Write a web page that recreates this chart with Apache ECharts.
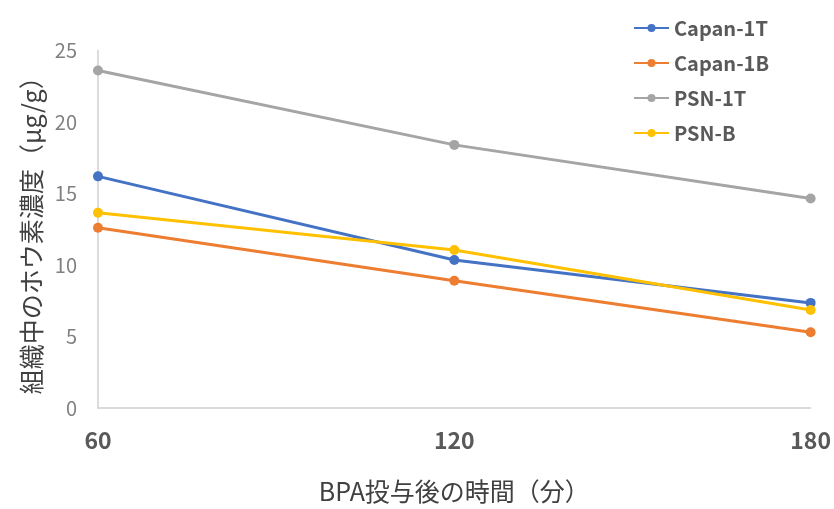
<!DOCTYPE html>
<html><head><meta charset="utf-8">
<script src="https://cdn.jsdelivr.net/npm/echarts@6/dist/echarts.min.js"></script>
<style>html,body{margin:0;padding:0;background:#fff}#c{width:834px;height:509px}</style>
</head><body><div id="c"></div>
<script>
const categories = ['60', '120', '180'];
const capan1T = [16.2, 10.35, 7.35];
const capan1B = [12.6, 8.9, 5.3];
const psn1T = [23.6, 18.4, 14.65];
const psnB = [13.65, 11.05, 6.85];
const seriesNames = ['Capan-1T', 'Capan-1B', 'PSN-1T', 'PSN-B'];
const colors = ['#4472C4', '#ED7D31', '#A5A5A5', '#FFC000'];
const yTicks = {min: 0, max: 25, interval: 5};

const FONT = '"Noto Sans CJK JP", "Noto Sans", sans-serif';
const chart = echarts.init(document.getElementById('c'));
const mk = (name, data, i) => ({
  name, type: 'line', data, symbol: 'circle', symbolSize: 10,
  lineStyle: {width: 3, color: colors[i]}, itemStyle: {color: colors[i]}
});
chart.setOption({
  animation: false,
  textStyle: {fontFamily: FONT},
  grid: {left: 98, right: 22, top: 50.5, bottom: 98},
  legend: {
    orient: 'vertical', left: 628, top: 13, itemWidth: 35, itemHeight: 10, itemGap: 15,
    textStyle: {fontSize: 20, fontWeight: 'bold', color: '#595959', fontFamily: FONT},
    data: seriesNames
  },
  xAxis: {
    type: 'category', data: categories, boundaryGap: false,
    axisLine: {lineStyle: {color: '#d0d0d0', width: 1.5}},
    axisTick: {show: false},
    axisLabel: {fontSize: 23, fontWeight: 'bold', color: '#595959', margin: 21, fontFamily: FONT,
      alignMinLabel: 'center', alignMaxLabel: 'center'},
    name: 'BPA投与後の時間（分）', nameLocation: 'middle', nameGap: 71,
    nameTextStyle: {fontSize: 25, color: '#404040', fontFamily: FONT}
  },
  yAxis: {
    type: 'value', min: yTicks.min, max: yTicks.max, interval: yTicks.interval,
    axisLine: {show: true, lineStyle: {color: '#d0d0d0', width: 1.5}},
    axisTick: {show: false},
    splitLine: {show: false},
    axisLabel: {fontSize: 20, color: '#808080', margin: 21, fontFamily: FONT},
    name: '組織中のホウ素濃度（μg/g）', nameLocation: 'middle', nameGap: 47, nameRotate: 90,
    nameTextStyle: {fontSize: 25, color: '#404040', fontFamily: FONT}
  },
  series: [mk(seriesNames[0], capan1T, 0), mk(seriesNames[1], capan1B, 1), mk(seriesNames[2], psn1T, 2), mk(seriesNames[3], psnB, 3)]
});
</script></body></html>
